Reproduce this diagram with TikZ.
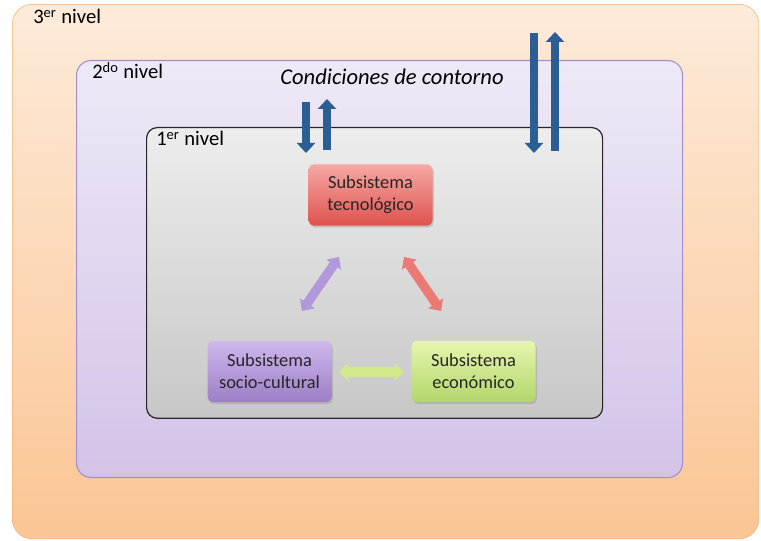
\documentclass[tikz,border=0pt]{standalone}
\usepackage{fontspec}
\setmainfont{Carlito}
\usepackage{tikz}
\usetikzlibrary{arrows.meta,shadows}

\definecolor{blueflow}{HTML}{2B5E93}
\definecolor{purplearr}{HTML}{B198DA}
\definecolor{redarr}{HTML}{EC7A74}
\definecolor{greenarr}{HTML}{D2E98E}
\definecolor{lvlthreetop}{HTML}{FDEBDA}
\definecolor{lvlthreebot}{HTML}{FBC594}
\definecolor{lvlthreeline}{HTML}{F5B273}
\definecolor{lvltwotop}{HTML}{EEE9F7}
\definecolor{lvltwobot}{HTML}{D3C3E8}
\definecolor{lvltwoline}{HTML}{A58FCB}
\definecolor{tectop}{HTML}{F6A8A4}
\definecolor{tecbot}{HTML}{DF524E}
\definecolor{soctop}{HTML}{CEB8EC}
\definecolor{socbot}{HTML}{9C7EC6}
\definecolor{ecotop}{HTML}{E6F6AE}
\definecolor{ecobot}{HTML}{B2D66B}

\begin{document}
\begin{tikzpicture}[x=0.75pt, y=-0.75pt]
    \tikzstyle{level} = [rectangle, inner sep=0pt, anchor=north west]
    \tikzstyle{lvltext} = [anchor=base west, inner sep=0pt, font=\fontsize{15.5}{18}\selectfont]
    \tikzstyle{subsys} = [rectangle, rounded corners=4pt, inner sep=0pt, minimum width=93pt, minimum height=46pt,
        align=center, font=\fontsize{13.8}{16.5}\selectfont\color{black!85},
        drop shadow={opacity=0.3, shadow xshift=1pt, shadow yshift=-1.5pt}]
    \tikzstyle{flow} = [blueflow, line width=6pt, -{Triangle[length=7.5pt, width=13.5pt]}]
    \tikzstyle{link} = [line width=7pt, {Triangle[length=7pt, width=13pt]}-{Triangle[length=7pt, width=13pt]}]

    \useasboundingbox (0,0) rectangle (761,541);

    % Levels
    \node[level, draw=lvlthreeline, top color=lvlthreetop, bottom color=lvlthreebot, rounded corners=15pt,
        minimum width=560pt, minimum height=401pt] (lvl3) at (12,4) {};
    \node[level, draw=lvltwoline, line width=0.8pt, top color=lvltwotop, bottom color=lvltwobot, rounded corners=11pt,
        minimum width=454.5pt, minimum height=312.75pt] (lvl2) at (76,60) {};
    \node[level, draw=black!85, line width=0.9pt, top color=black!7, bottom color=black!22, rounded corners=8pt,
        minimum width=342pt, minimum height=218pt] (lvl1) at (146,127) {};

    \node[lvltext] (t3) at (33,24) {3\textsuperscript{er} nivel};
    \node[lvltext] (t2) at (92,79) {2\textsuperscript{do} nivel};
    \node[lvltext] (t1) at (156,146) {1\textsuperscript{er} nivel};
    \node[font=\fontsize{16.9}{20}\itshape] (cc) at (392,77) {Condiciones de contorno};

    % Subsystems
    \node[subsys, top color=tectop, bottom color=tecbot] (tec) at (370.5,195) {Subsistema\\tecnológico};
    \node[subsys, top color=soctop, bottom color=socbot] (soc) at (269.5,371.5) {Subsistema\\socio-cultural};
    \node[subsys, top color=ecotop, bottom color=ecobot] (eco) at (473.5,371.5) {Subsistema\\económico};

    % Interactions
    \coordinate (ts) at (339,257);
    \coordinate (st) at (302,311);
    \coordinate (te) at (404,257);
    \coordinate (et) at (441,311);
    \coordinate (se) at (339,372);
    \coordinate (es) at (404,372);
    \draw[link, purplearr] (ts) -- (st);
    \draw[link, redarr] (te) -- (et);
    \draw[link, greenarr] (se) -- (es);

    % Boundary flows
    \coordinate (a1) at (306,102);  \coordinate (b1) at (306,153);
    \coordinate (a2) at (327,150);  \coordinate (b2) at (327,99);
    \coordinate (a3) at (534,33);   \coordinate (b3) at (534,153);
    \coordinate (a4) at (555,151);  \coordinate (b4) at (555,32);
    \draw[flow] (a1) -- (b1);
    \draw[flow] (a2) -- (b2);
    \draw[flow] (a3) -- (b3);
    \draw[flow] (a4) -- (b4);
\end{tikzpicture}
\end{document}
